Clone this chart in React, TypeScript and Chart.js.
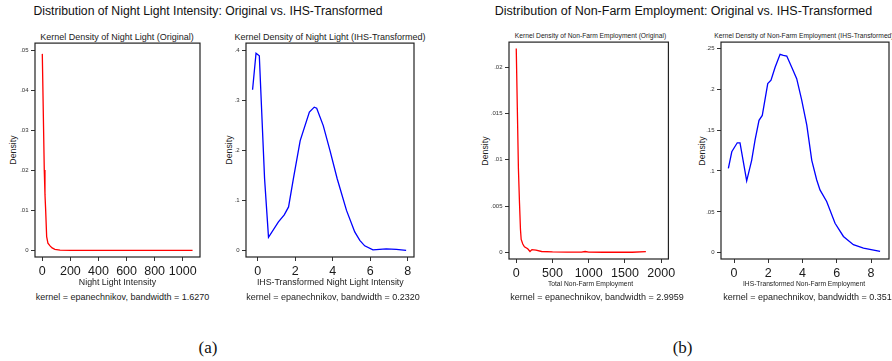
import React, { useEffect, useRef } from "react";
import { Chart, registerables } from "chart.js";

Chart.register(...registerables);

// ---------- DATA ----------
// Panel (a) left: Night light, original scale
const NL_ORIG_X = [0, 14, 19, 24, 31, 40, 55, 70, 90, 126, 200, 300, 400, 500, 600, 700, 800, 900, 1000, 1070];
const NL_ORIG_Y = [0.0492, 0.0201, 0.014, 0.01, 0.0034, 0.0018, 0.0011, 0.0006, 0.00025, 0.00003, 0, 0, 0, 0, 0, 0, 0, 0, 0, 0];
const NL_ORIG_XTICKS = [0, 200, 400, 600, 800, 1000];
const NL_ORIG_YTICKS = [0, 0.01, 0.02, 0.03, 0.04, 0.05];
const NL_ORIG_YLABELS = ["0", ".01", ".02", ".03", ".04", ".05"];

// Panel (a) right: Night light, IHS-transformed
const NL_IHS_X = [-0.27, -0.085, 0.09, 0.37, 0.58, 1.11, 1.42, 1.65, 1.91, 2.27, 2.76, 3.02, 3.15, 3.5, 3.86, 4.24, 4.74, 5.18, 5.45, 5.71, 6.15, 6.5, 6.86, 7.4, 7.92];
const NL_IHS_Y = [0.322, 0.395, 0.39, 0.144, 0.026, 0.057, 0.071, 0.087, 0.144, 0.22, 0.277, 0.287, 0.285, 0.25, 0.2, 0.144, 0.08, 0.037, 0.02, 0.009, 0.001, 0.002, 0.003, 0.002, 0.0];
const NL_IHS_XTICKS = [0, 2, 4, 6, 8];
const NL_IHS_YTICKS = [0, 0.1, 0.2, 0.3, 0.4];
const NL_IHS_YLABELS = ["0", ".1", ".2", ".3", ".4"];

// Panel (b) left: Non-farm employment, original scale
const NF_ORIG_X = [0, 15, 30, 45, 58, 68, 90, 113, 158, 190, 217, 272, 350, 500, 700, 900, 950, 1000, 1200, 1400, 1600, 1788];
const NF_ORIG_Y = [0.022, 0.0155, 0.009, 0.0053, 0.0025, 0.0014, 0.0009, 0.0006, 0.0004, 0.0001, 0.0003, 0.00025, 0.0001, 0.00005, 0.00003, 0.00004, 0.0001, 0.00003, 0.00002, 0.00002, 0.00002, 0.00008];
const NF_ORIG_XTICKS = [0, 500, 1000, 1500, 2000];
const NF_ORIG_YTICKS = [0, 0.005, 0.01, 0.015, 0.02];
const NF_ORIG_YLABELS = ["0", ".005", ".01", ".015", ".02"];

// Panel (b) right: Non-farm employment, IHS-transformed
const NF_IHS_X = [-0.33, -0.13, 0.19, 0.35, 0.74, 1.03, 1.23, 1.46, 1.65, 1.97, 2.16, 2.4, 2.69, 2.88, 3.08, 3.37, 3.66, 3.95, 4.25, 4.54, 4.83, 5.02, 5.41, 5.9, 6.39, 6.97, 7.56, 8.53];
const NF_IHS_Y = [0.1033, 0.1235, 0.1345, 0.1345, 0.088, 0.113, 0.138, 0.162, 0.168, 0.207, 0.211, 0.227, 0.2427, 0.2415, 0.2406, 0.227, 0.213, 0.187, 0.156, 0.113, 0.089, 0.0768, 0.0626, 0.036, 0.0199, 0.0098, 0.0057, 0.0016];
const NF_IHS_XTICKS = [0, 2, 4, 6, 8];
const NF_IHS_YTICKS = [0, 0.05, 0.1, 0.15, 0.2, 0.25];
const NF_IHS_YLABELS = ["0", ".05", ".1", ".15", ".2", ".25"];

// ---------- LAYOUT ----------
const SANS = "'Liberation Sans', Arial, Helvetica, sans-serif";
const YW = 32;
const XH = 26;
const PT = 6;
const PR = 8;

const framePlugin = {
  id: "frameBox",
  beforeDatasetsDraw(chart: any) {
    const { ctx, chartArea } = chart;
    const { left, top, right, bottom } = chartArea;
    ctx.save();
    ctx.strokeStyle = "#222";
    ctx.lineWidth = 1.2;
    ctx.strokeRect(left, top, right - left, bottom - top);
    ctx.restore();
  },
};

type PanelProps = {
  frame: { l: number; t: number; r: number; b: number };
  xs: number[];
  ys: number[];
  color: string;
  xRange: [number, number];
  yRange: [number, number];
  xTicks: number[];
  yTicks: number[];
  yLabels: string[];
};

function Panel({ frame, xs, ys, color, xRange, yRange, xTicks, yTicks, yLabels }: PanelProps) {
  const ref = useRef<HTMLCanvasElement>(null);
  const W = YW + (frame.r - frame.l) + PR;
  const H = PT + (frame.b - frame.t) + XH;
  useEffect(() => {
    const chart = new Chart(ref.current as HTMLCanvasElement, {
      type: "line",
      data: {
        datasets: [
          {
            data: xs.map((x, i) => ({ x, y: ys[i] })),
            borderColor: color,
            borderWidth: 1.3,
            pointRadius: 0,
            tension: 0,
            fill: false,
          },
        ],
      },
      options: {
        animation: false,
        responsive: false,
        devicePixelRatio: 1,
        layout: { padding: { left: 0, top: PT, right: PR, bottom: 0 } },
        plugins: {
          legend: { display: false },
          tooltip: { enabled: false },
          title: { display: false },
        },
        scales: {
          x: {
            type: "linear",
            min: xRange[0],
            max: xRange[1],
            afterBuildTicks: (s: any) => {
              s.ticks = xTicks.map((v) => ({ value: v }));
            },
            afterFit: (s: any) => {
              s.height = XH;
            },
            border: { display: false },
            grid: { drawOnChartArea: false, drawTicks: true, tickLength: 4, tickColor: "#333", tickWidth: 1 },
            ticks: {
              autoSkip: false,
              maxRotation: 0,
              padding: 3.5,
              color: "#1a1a1a",
              font: { family: SANS, size: 12.5 },
              callback: (v: any) => String(v),
            },
          },
          y: {
            type: "linear",
            min: yRange[0],
            max: yRange[1],
            afterBuildTicks: (s: any) => {
              s.ticks = yTicks.map((v) => ({ value: v }));
            },
            afterFit: (s: any) => {
              s.width = YW;
            },
            border: { display: false },
            grid: { drawOnChartArea: false, drawTicks: true, tickLength: 4, tickColor: "#333", tickWidth: 1 },
            ticks: {
              autoSkip: false,
              padding: 2.5,
              color: "#333",
              font: { family: SANS, size: 6 },
              callback: (_v: any, i: number) => yLabels[i],
            },
          },
        },
      },
      plugins: [framePlugin],
    });
    return () => chart.destroy();
  }, []);
  return (
    <canvas
      ref={ref}
      width={W}
      height={H}
      style={{ position: "absolute", left: frame.l - YW, top: frame.t - PT, width: W, height: H }}
    />
  );
}

function Txt({ x, y, size, children, align = "center", rotate = false, color = "#222", family = SANS }: any) {
  const tx = align === "center" ? "-50%" : "0";
  return (
    <div
      style={{
        position: "absolute",
        left: x,
        top: y,
        transform: `translate(${rotate ? "-50%" : tx}, -50%)${rotate ? " rotate(-90deg)" : ""}`,
        fontFamily: family,
        fontSize: size,
        lineHeight: 1,
        whiteSpace: "nowrap",
        color,
      }}
    >
      {children}
    </div>
  );
}

export default function App() {
  useEffect(() => {
    document.body.style.margin = "0";
  }, []);
  return (
    <div
      style={{
        position: "absolute",
        left: 0,
        top: 0,
        width: 892,
        height: 361,
        overflow: "hidden",
        background: "#fff",
      }}
    >
      {/* Main titles */}
      <Txt x={208} y={11} size={12.2} color="#111">
        Distribution of Night Light Intensity: Original vs. IHS-Transformed
      </Txt>
      <Txt x={683.5} y={11} size={12.5} color="#111">
        Distribution of Non-Farm Employment: Original vs. IHS-Transformed
      </Txt>

      {/* Panel titles */}
      <Txt x={117} y={37} size={9}>Kernel Density of Night Light (Original)</Txt>
      <Txt x={330} y={37} size={9}>Kernel Density of Night Light (IHS-Transformed)</Txt>
      <Txt x={590.5} y={36} size={6.7}>Kernel Density of Non-Farm Employment (Original)</Txt>
      <Txt x={714.3} y={36} size={6.7} align="left">Kernel Density of Non-Farm Employment (IHS-Transformed)</Txt>

      {/* Y titles */}
      <Txt x={13.3} y={150} size={8.8} rotate>Density</Txt>
      <Txt x={229} y={150} size={8.8} rotate>Density</Txt>
      <Txt x={485} y={150.5} size={8.8} rotate>Density</Txt>
      <Txt x={701.7} y={150.5} size={8.8} rotate>Density</Txt>

      <Panel
        frame={{ l: 35, t: 43, r: 200, b: 257 }}
        xs={NL_ORIG_X}
        ys={NL_ORIG_Y}
        color="#ff0000"
        xRange={[-52, 1123]}
        yRange={[-0.00168, 0.0519]}
        xTicks={NL_ORIG_XTICKS}
        yTicks={NL_ORIG_YTICKS}
        yLabels={NL_ORIG_YLABELS}
      />
      <Panel
        frame={{ l: 246, t: 43, r: 414, b: 257 }}
        xs={NL_IHS_X}
        ys={NL_IHS_Y}
        color="#0000ff"
        xRange={[-0.62, 8.34]}
        yRange={[-0.0134, 0.4154]}
        xTicks={NL_IHS_XTICKS}
        yTicks={NL_IHS_YTICKS}
        yLabels={NL_IHS_YLABELS}
      />
      <Panel
        frame={{ l: 509, t: 42, r: 671, b: 259 }}
        xs={NF_ORIG_X}
        ys={NF_ORIG_Y}
        color="#ff0000"
        xRange={[-100, 2099]}
        yRange={[-0.00071, 0.02269]}
        xTicks={NF_ORIG_XTICKS}
        yTicks={NF_ORIG_YTICKS}
        yLabels={NF_ORIG_YLABELS}
      />
      <Panel
        frame={{ l: 721, t: 42, r: 889, b: 259 }}
        xs={NF_IHS_X}
        ys={NF_IHS_Y}
        color="#0000ff"
        xRange={[-0.76, 9.05]}
        yRange={[-0.0077, 0.2577]}
        xTicks={NF_IHS_XTICKS}
        yTicks={NF_IHS_YTICKS}
        yLabels={NF_IHS_YLABELS}
      />

      {/* X titles */}
      <Txt x={117.5} y={282} size={8.8}>Night Light Intensity</Txt>
      <Txt x={330.3} y={282} size={8.8}>IHS-Transformed Night Light Intensity</Txt>
      <Txt x={590.5} y={283.5} size={6.7}>Total Non-Farm Employment</Txt>
      <Txt x={804} y={283.5} size={6.7}>IHS-Transformed Non-Farm Employment</Txt>

      {/* Notes */}
      <Txt x={122.5} y={297} size={9}>kernel = epanechnikov, bandwidth = 1.6270</Txt>
      <Txt x={333} y={297} size={9}>kernel = epanechnikov, bandwidth = 0.2320</Txt>
      <Txt x={597} y={297} size={9}>kernel = epanechnikov, bandwidth = 2.9959</Txt>
      <Txt x={723.3} y={297} size={9} align="left">kernel = epanechnikov, bandwidth = 0.3513</Txt>

      {/* Captions */}
      <Txt x={208} y={347} size={17} family="'Liberation Serif', 'DejaVu Serif', serif" color="#111">(a)</Txt>
      <Txt x={682.6} y={347} size={17} family="'Liberation Serif', 'DejaVu Serif', serif" color="#111">(b)</Txt>
    </div>
  );
}
